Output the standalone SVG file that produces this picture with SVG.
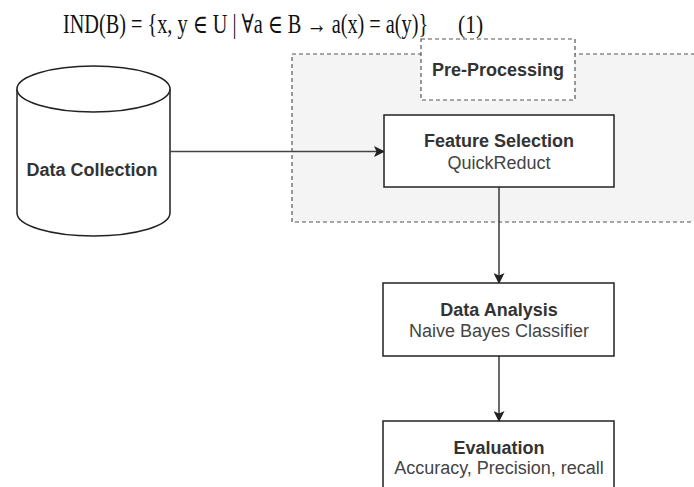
<svg xmlns="http://www.w3.org/2000/svg" width="694" height="487" viewBox="0 0 694 487">
<style>
.box{fill:#fff;stroke:#222;stroke-width:1.5}
.t{font-family:"Liberation Sans",Arial,sans-serif;font-size:18px;fill:#333;text-anchor:middle}
.b{font-weight:bold}
.s{fill:#444}
.dash{stroke:#555;stroke-width:1.2;stroke-dasharray:4 3}
.conn{stroke:#444;stroke-width:1.6;fill:none}
.eq{font-family:"Liberation Serif","DejaVu Serif",serif;font-size:25px;fill:#111}
</style>
<defs>
<marker id="arr" markerWidth="11" markerHeight="11" refX="10" refY="5.5" orient="auto" markerUnits="userSpaceOnUse">
<path d="M0,0 L11,5.5 L0,11 L2.5,5.5 Z" fill="#222"/>
</marker>
</defs>
<rect width="694" height="487" fill="#fff"/>
<g id="equation">
<text class="eq" transform="translate(63,33) scale(0.81,1.05)">IND(B) = {x, y ∈ U | ∀a ∈ B → a(x) = a(y)}</text>
<text class="eq" transform="translate(458,33) scale(0.86,1.05)">(1)</text>
</g>
<g id="preprocessing">
<rect x="292" y="54" width="420" height="168" fill="#f4f4f4" class="dash"/>
<rect x="421" y="39" width="154" height="61" fill="#fff" class="dash"/>
<text x="498" y="76" class="t b">Pre-Processing</text>
</g>
<g id="data-collection">
<path d="M17,89 L17,213 A76.5,23 0 0 0 170,213 L170,89" fill="#fff" stroke="#222" stroke-width="1.5"/>
<ellipse cx="93.5" cy="89" rx="76.5" ry="23" fill="#fff" stroke="#222" stroke-width="1.5"/>
<text x="92" y="176" class="t b">Data Collection</text>
</g>
<g id="connectors">
<line x1="170" y1="151.5" x2="384" y2="151.5" class="conn" marker-end="url(#arr)"/>
<line x1="499" y1="187" x2="499" y2="283" class="conn" marker-end="url(#arr)"/>
<line x1="499" y1="356" x2="499" y2="421" class="conn" marker-end="url(#arr)"/>
</g>
<g id="feature-selection">
<rect x="384" y="115" width="230" height="72" class="box"/>
<text x="499" y="147" class="t b">Feature Selection</text>
<text x="499" y="169" class="t s">QuickReduct</text>
</g>
<g id="data-analysis">
<rect x="383" y="283" width="231" height="73" class="box"/>
<text x="499" y="316" class="t b">Data Analysis</text>
<text x="499" y="337" class="t s">Naive Bayes Classifier</text>
</g>
<g id="evaluation">
<rect x="383" y="421" width="231" height="80" class="box"/>
<text x="499" y="454" class="t b">Evaluation</text>
<text x="499" y="474" class="t s">Accuracy, Precision, recall</text>
</g>
</svg>
